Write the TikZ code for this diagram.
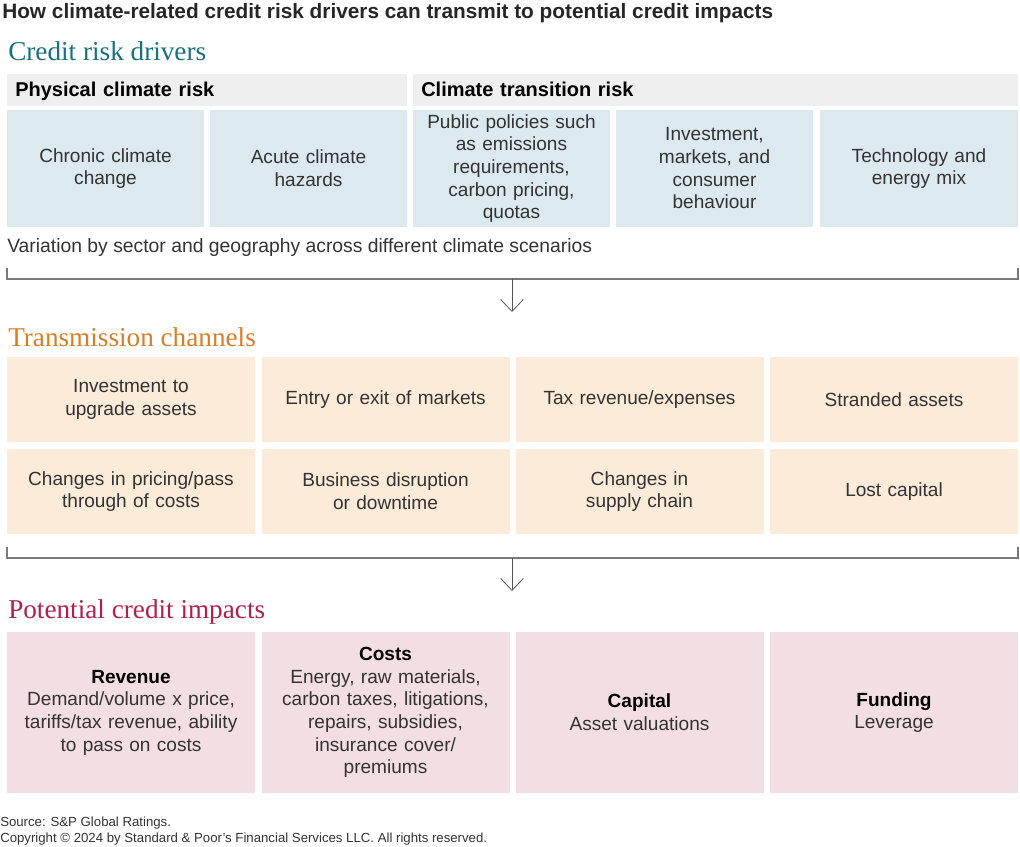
\documentclass[tikz,border=0pt]{standalone}
\usepackage{fontspec}
\setmainfont{Liberation Sans}
\newfontfamily\serifhead{Liberation Serif}
\usetikzlibrary{arrows.meta}
\definecolor{blueC}{HTML}{DCE9EF}
\definecolor{grayH}{HTML}{EFEFEF}
\definecolor{orangeC}{HTML}{FCEBD9}
\definecolor{pinkC}{HTML}{F3DEE4}
\definecolor{tealT}{HTML}{17707F}
\definecolor{orangeT}{HTML}{D97D25}
\definecolor{crimT}{HTML}{B21F4C}
\definecolor{txt}{HTML}{333333}
\definecolor{lineC}{HTML}{7A7A7A}
\definecolor{arrC}{HTML}{555555}
\begin{document}
\begin{tikzpicture}[x=0.75pt,y=-0.75pt,
  body/.style={font=\fontsize{14.3}{17}\selectfont, text=txt},
  cellbase/.style={body, inner sep=0pt, align=center},
  cellB/.style={cellbase, fill=blueC, minimum width=147.75pt, minimum height=87.75pt, text width=140pt},
  cellO/.style={cellbase, fill=orangeC, minimum width=186pt, minimum height=63.75pt, text width=178pt},
  cellP/.style={cellbase, fill=pinkC, minimum width=186pt, minimum height=120.75pt, text width=178pt},
  hdr/.style={fill=grayH, minimum height=24pt, inner xsep=6pt, inner ysep=0pt, text height=11pt, text depth=2pt, align=left, anchor=west, font=\fontsize{15}{18}\selectfont\bfseries, text=black},
  sect/.style={anchor=base west, inner sep=0pt, font=\serifhead\fontsize{20.4}{24}\selectfont},
  bracket/.style={draw=lineC, line width=1.1pt},
  flow/.style={draw=arrC, line width=0.75pt, -{Straight Barb[length=9pt,width=17pt,line width=0.6pt]}},
  note/.style={anchor=base west, inner sep=0pt, font=\fontsize{9.9}{11}\selectfont, text=txt}
]
\useasboundingbox (0,0) rectangle (1020,846);

% title
\node[anchor=base west, inner sep=0pt, font=\fontsize{15.6}{18}\selectfont\bfseries, text=black!85] (title) at (2,18) {How climate-related credit risk drivers can transmit to potential credit impacts};

% section 1
\node[sect, text=tealT] (s1) at (8,60) {Credit risk drivers};
\node[hdr, minimum width=300pt, text width=288pt] (phys) at (7,90) {Physical climate risk};
\node[hdr, minimum width=453.75pt, text width=441.75pt] (trans) at (413,90) {Climate transition risk};

\node[cellB] (b1) at (105.5,168.5) {Chronic climate\\change};
\node[cellB] (b2) at (308.5,168.5) {Acute climate\\hazards};
\node[cellB] (b3) at (511.5,168.5) {Public policies such\\as emissions\\requirements,\\carbon pricing,\\quotas};
\node[cellB] (b4) at (714.5,168.5) {Investment,\\markets, and\\consumer\\behaviour};
\node[cellB, minimum width=148.5pt] (b5) at (919,168.5) {Technology and\\energy mix};

\node[body, anchor=base west, inner sep=0pt, font=\fontsize{14.5}{17}\selectfont] (var) at (7,252) {Variation by sector and geography across different climate scenarios};

\coordinate (t1a) at (7,268);
\coordinate (t1b) at (7,279);
\coordinate (t1c) at (1018,279);
\coordinate (t1d) at (1018,268);
\coordinate (a1s) at (512,279);
\coordinate (a1e) at (512,312);
\draw[bracket] (t1a) -- (t1b) -- (t1c) -- (t1d);
\draw[flow] (a1s) -- (a1e);

% section 2
\node[sect, text=orangeT] (s2) at (8,346) {Transmission channels};
\node[cellO] (o1) at (131,399.5) {Investment to\\upgrade assets};
\node[cellO] (o2) at (385.5,399.5) {Entry or exit of markets};
\node[cellO] (o3) at (639.5,399.5) {Tax revenue/expenses};
\node[cellO] (o4) at (894,399.5) {Stranded assets};
\node[cellO] (o5) at (131,491.5) {Changes in pricing/pass\\through of costs};
\node[cellO] (o6) at (385.5,491.5) {Business disruption\\or downtime};
\node[cellO] (o7) at (639.5,491.5) {Changes in\\supply chain};
\node[cellO] (o8) at (894,491.5) {Lost capital};

\coordinate (t2a) at (7,547);
\coordinate (t2b) at (7,558);
\coordinate (t2c) at (1018,558);
\coordinate (t2d) at (1018,547);
\coordinate (a2s) at (512,558);
\coordinate (a2e) at (512,591);
\draw[bracket] (t2a) -- (t2b) -- (t2c) -- (t2d);
\draw[flow] (a2s) -- (a2e);

% section 3
\node[sect, text=crimT] (s3) at (8,618) {Potential credit impacts};
\node[cellP] (p1) at (131,712.5) {\textbf{\color{black}Revenue}\\Demand/volume x price,\\tariffs/tax revenue, ability\\to pass on costs};
\node[cellP] (p2) at (385.5,712.5) {\textbf{\color{black}Costs}\\Energy, raw materials,\\carbon taxes, litigations,\\repairs, subsidies,\\insurance cover/\\premiums};
\node[cellP] (p3) at (639.5,712.5) {\textbf{\color{black}Capital}\\Asset valuations};
\node[cellP] (p4) at (894,712.5) {\textbf{\color{black}Funding}\\Leverage};

% footer
\node[note] (src) at (0,826) {Source: S\&P Global Ratings.};
\node[note] (copy) at (0,842) {Copyright © 2024 by Standard \& Poor’s Financial Services LLC. All rights reserved.};
\end{tikzpicture}
\end{document}
